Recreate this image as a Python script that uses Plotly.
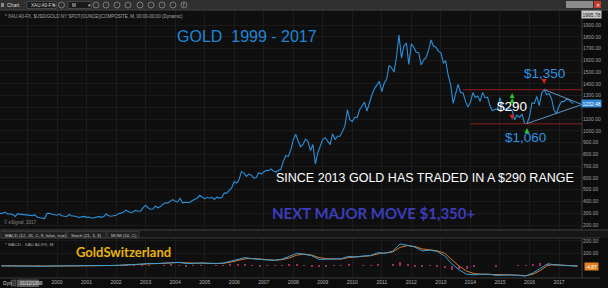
import plotly.graph_objects as go
import pandas as pd

W, H = 608, 288
def px(x):
    return x / W
def py(y):
    return 1 - y / H

# ---------------- data: monthly gold closes (USD/oz) ----------------
gold_1998 = [303, 297, 301, 310, 293, 296, 289, 273, 294, 292, 294, 288]
gold_1999 = [287, 287, 280, 286, 268, 261, 255, 255, 299, 299, 292, 290]
gold_2000 = [283, 293, 279, 274, 272, 289, 277, 276, 273, 264, 269, 273]
gold_2001 = [265, 267, 258, 264, 267, 271, 265, 273, 293, 279, 275, 277]
gold_2002 = [282, 296, 301, 308, 326, 318, 304, 312, 324, 317, 318, 347]
gold_2003 = [368, 347, 334, 336, 361, 346, 354, 375, 388, 386, 398, 416]
gold_2004 = [402, 396, 427, 388, 393, 395, 391, 408, 415, 428, 452, 438]
gold_2005 = [422, 435, 428, 435, 417, 437, 429, 433, 473, 470, 495, 517]
gold_2006 = [569, 556, 584, 654, 643, 613, 633, 623, 599, 604, 646, 632]
gold_2007 = [650, 665, 662, 677, 658, 650, 665, 672, 743, 789, 783, 836]
gold_2008 = [923, 972, 916, 865, 885, 930, 912, 833, 884, 717, 816, 869]
gold_2009 = [928, 942, 916, 883, 975, 926, 954, 955, 995, 1040, 1180, 1096]
gold_2010 = [1081, 1116, 1113, 1179, 1212, 1244, 1169, 1246, 1307, 1357, 1386, 1421]
gold_2011 = [1333, 1409, 1439, 1556, 1536, 1500, 1628, 1815, 1620, 1722, 1746, 1564]
gold_2012 = [1740, 1711, 1669, 1664, 1560, 1604, 1622, 1687, 1773, 1719, 1712, 1676]
gold_2013 = [1663, 1578, 1596, 1472, 1393, 1234, 1313, 1396, 1327, 1323, 1253, 1202]
gold_2014 = [1244, 1326, 1284, 1296, 1250, 1327, 1282, 1287, 1210, 1171, 1183, 1184]
gold_2015 = [1283, 1213, 1183, 1183, 1190, 1172, 1095, 1134, 1115, 1142, 1065, 1061]
gold_2016 = [1118, 1238, 1234, 1293, 1215, 1322, 1351, 1309, 1316, 1273, 1173, 1151]
gold_2017 = [1211, 1249, 1249, 1268, 1268, 1242, 1232.48]

prices = (gold_1998 + gold_1999 + gold_2000 + gold_2001 + gold_2002 + gold_2003 +
          gold_2004 + gold_2005 + gold_2006 + gold_2007 + gold_2008 + gold_2009 +
          gold_2010 + gold_2011 + gold_2012 + gold_2013 + gold_2014 + gold_2015 +
          gold_2016 + gold_2017)
dates = pd.date_range("1998-01-01", periods=len(prices), freq="MS")

# ---------------- MACD panel (quarterly readings) ----------------
macd_line = [-3, -4, -5, -5, -5, -8, -6, -3, -3, -2, -3, -4, -5, -3, 0, 1,
             3, 8, 9, 12, 18, 16, 20, 28, 26, 18, 16, 22, 18, 16, 20, 35,
             50, 65, 55, 48, 45, 42, 52, 75, 100, 92, 80, 50, 52, 50, 55, 75,
             70, 78, 82, 105, 100, 118, 175, 165, 150, 120, 125, 115,
             80, 15, -35, -70, -75, -70, -70, -80, -75, -76, -80, -85,
             -60, -20, 15, 5, 0, -3, -5]
macd_signal = [-2, -3, -4, -5, -5, -6, -6, -5, -4, -3, -3, -3, -4, -4, -2, 0,
               1, 5, 8, 10, 14, 16, 18, 23, 25, 22, 18, 19, 18, 17, 18, 27,
               40, 55, 58, 52, 47, 44, 48, 62, 85, 93, 85, 65, 56, 52, 53, 65,
               70, 75, 80, 95, 100, 110, 148, 162, 155, 135, 128, 120,
               100, 50, -5, -45, -65, -70, -70, -75, -75, -76, -78, -82,
               -70, -40, 2, 8, 3, 0, -3]
macd_hist = [-1, -1, -1, 0, 0, -2, 0, 2, 1, 1, 0, -1, -1, 1, 2, 1,
             2, 3, 1, 2, 4, 0, 2, 5, 1, -4, -2, 3, 0, -1, 2, 8,
             10, 10, -3, -4, -2, -2, 4, 13, 15, -1, -5, -15, -4, -2, 2, 10,
             0, 3, 2, 10, 0, 8, 25, 5, -5, -15, -3, -5,
             -20, -35, -30, -25, -10, 0, 0, -5, 0, 0, -2, -3,
             10, 20, 15, -3, -3, -3, -2]
q_dates = [f"{y}-{m:02d}-15" for y in range(1998, 2018) for m in (2, 5, 8, 11)][:len(macd_line)]

year_ticks = [f"{y}-01-01" for y in range(2000, 2018)]
year_labels = [str(y) for y in range(2000, 2018)]
grid_years = [f"{y}-01-01" for y in range(1999, 2018)]
price_ticks = list(range(200, 2000, 100))
# the 1200 label sits under the last-price box in the reference
price_labels = ["" if v == 1200 else f"{v}.00" for v in price_ticks]

# annotations on the price panel
range_top, range_bottom = 1350, 1060
top_line_start, bottom_line_start = "2013-10-01", "2014-01-01"
tri_peak = ("2016-07-01", 1351)
tri_low = ("2015-12-01", 1062)
tri_apex = ("2017-10-12", 1224)
label_texts = ["$1,350", "$290", "$1,060"]
label_x = ["2016-07-01", "2015-06-01", "2015-11-15"]
label_y = [1492, 1211, 940]
label_colors = ["#2f93e2", "#ffffff", "#2f93e2"]
green_x = ["2015-06-01", "2015-06-01", "2015-12-01"]
green_y = [1322, 1280, 1024]
red_x = ["2015-06-01", "2016-07-01"]
red_y = [1095, 1398]

X_RANGE = ["1998-01-26", "2017-10-12"]
FONT = "Liberation Sans, Arial, sans-serif"

fig = go.Figure()

# price line
fig.add_trace(go.Scatter(x=dates, y=prices, mode="lines",
                         line=dict(color="#2b8fda", width=1.1),
                         xaxis="x", yaxis="y", hoverinfo="skip"))
# markers
fig.add_trace(go.Scatter(x=green_x, y=green_y, mode="markers",
                         marker=dict(symbol="arrow-up", size=5, color="#27c42a"),
                         xaxis="x", yaxis="y", hoverinfo="skip"))
fig.add_trace(go.Scatter(x=red_x, y=red_y, mode="markers",
                         marker=dict(symbol="arrow-down", size=5, color="#e0201e"),
                         xaxis="x", yaxis="y", hoverinfo="skip"))

# MACD panel
fig.add_trace(go.Bar(x=q_dates, y=macd_hist, marker=dict(color="#9e2a66", line=dict(width=0)),
                     width=12 * 24 * 3600 * 1000, xaxis="x2", yaxis="y2", hoverinfo="skip"))
fig.add_trace(go.Scatter(x=q_dates, y=macd_signal, mode="lines",
                         line=dict(color="#d9782a", width=1), xaxis="x2", yaxis="y2",
                         hoverinfo="skip"))
fig.add_trace(go.Scatter(x=q_dates, y=macd_line, mode="lines",
                         line=dict(color="#3aa0d8", width=1), xaxis="x2", yaxis="y2",
                         hoverinfo="skip"))

shapes = []
# toolbar background
shapes.append(dict(type="rect", xref="paper", yref="paper", x0=0, x1=1, y0=py(10), y1=1,
                   fillcolor="#2f2f2f", line=dict(width=0), layer="below"))
shapes.append(dict(type="line", xref="paper", yref="paper", x0=0, x1=1, y0=py(10), y1=py(10),
                   line=dict(color="#474747", width=1)))
# toolbar widgets
shapes.append(dict(type="rect", xref="paper", yref="paper", x0=px(1), x1=px(4), y0=py(7), y1=py(3),
                   fillcolor="#8a8a8a", line=dict(width=0)))
for (a, b) in [(27, 56), (68, 91)]:
    shapes.append(dict(type="rect", xref="paper", yref="paper", x0=px(a), x1=px(b), y0=py(8.5), y1=py(1.5),
                       fillcolor="#1a1a1a", line=dict(color="#5a5a5a", width=0.6)))
for cx in [61.5, 96, 106, 117, 128, 140, 151, 162, 173, 184]:
    shapes.append(dict(type="circle", xref="paper", yref="paper", x0=px(cx - 3), x1=px(cx + 3),
                       y0=py(8), y1=py(2), line=dict(color="#9a9a9a", width=0.7)))
shapes.append(dict(type="rect", xref="paper", yref="paper", x0=px(566), x1=px(593), y0=py(8), y1=py(1),
                   fillcolor="#8c8c8c", line=dict(width=0)))
shapes.append(dict(type="rect", xref="paper", yref="paper", x0=px(594), x1=px(601), y0=py(8), y1=py(1),
                   fillcolor="#c23a2a", line=dict(width=0)))
# separators / borders
shapes.append(dict(type="line", xref="paper", yref="paper", x0=px(582), x1=px(582), y0=py(278), y1=py(10),
                   line=dict(color="#3c3c3c", width=1)))
shapes.append(dict(type="rect", xref="paper", yref="paper", x0=0, x1=1, y0=py(231), y1=py(229),
                   fillcolor="#2a2a2a", line=dict(width=0)))
shapes.append(dict(type="rect", xref="paper", yref="paper", x0=0, x1=1, y0=py(238), y1=py(231),
                   fillcolor="#161616", line=dict(width=0)))
for (a, b) in [(1, 66), (67, 106), (107, 139)]:
    shapes.append(dict(type="rect", xref="paper", yref="paper", x0=px(a), x1=px(b), y0=py(238), y1=py(231.5),
                       fillcolor="#202020", line=dict(color="#4a4a4a", width=0.6)))
shapes.append(dict(type="line", xref="paper", yref="paper", x0=0, x1=px(600), y0=py(238), y1=py(238),
                   line=dict(color="#3a3a3a", width=1)))
shapes.append(dict(type="line", xref="paper", yref="paper", x0=0, x1=px(600), y0=py(278), y1=py(278),
                   line=dict(color="#3a3a3a", width=1)))
shapes.append(dict(type="rect", xref="paper", yref="paper", x0=px(11), x1=px(16), y0=py(286), y1=py(280),
                   fillcolor="#3a3a3a", line=dict(color="#777", width=0.5)))
shapes.append(dict(type="rect", xref="paper", yref="paper", x0=px(17), x1=px(39), y0=py(287), y1=py(279.5),
                   fillcolor="#5a5a5a", line=dict(width=0)))
# range lines
shapes.append(dict(type="line", xref="x", yref="y", x0=top_line_start, x1=X_RANGE[1],
                   y0=range_top, y1=range_top, line=dict(color="#8e1f1f", width=1)))
shapes.append(dict(type="line", xref="x", yref="y", x0=bottom_line_start, x1=X_RANGE[1],
                   y0=range_bottom, y1=range_bottom, line=dict(color="#8e1f1f", width=1)))
# triangle
shapes.append(dict(type="line", xref="x", yref="y", x0=tri_peak[0], y0=tri_peak[1],
                   x1=tri_apex[0], y1=tri_apex[1], line=dict(color="#5c95c9", width=1)))
shapes.append(dict(type="line", xref="x", yref="y", x0=tri_low[0], y0=tri_low[1],
                   x1=tri_apex[0], y1=tri_apex[1], line=dict(color="#5c95c9", width=1)))

ann = []
def txt(x, y, s, size, color, anchor="left", family=FONT, **kw):
    d = dict(xref="paper", yref="paper", x=px(x), y=py(y), text=s, showarrow=False,
             xanchor=anchor, yanchor="middle", font=dict(size=size, color=color, family=family))
    d.update(kw)
    ann.append(d)

txt(5, 5.2, "Chart", 5, "#dddddd")
txt(29, 5.2, "XAU A0-FX", 4.6, "#dddddd")
txt(51, 5.2, "▾", 4.6, "#bbbbbb")
txt(70, 5.2, "M", 4.6, "#dddddd")
txt(86, 5.2, "▾", 4.6, "#bbbbbb")
txt(184, 5.2, "f", 5, "#bbbbbb", anchor="center")
txt(597.5, 4.5, "✕", 5, "#ffffff", anchor="center")
txt(3, 16, "* XAU A0-FX, $USD/GOLD NY SPOT(OUNCE)|COMPOSITE, M, 00:00-00:00 (Dynamic)", 4.5, "#a8a8a8")
txt(247, 36, "GOLD\u00a0 1999 - 2017", 16, "#1f86d6", anchor="center")
txt(425, 178, "SINCE 2013 GOLD HAS TRADED IN A $290 RANGE", 12.5, "#ffffff", anchor="center")
txt(374, 213, "<b>NEXT MAJOR MOVE $1,350+</b>", 15, "#3b3dbd", anchor="center", family="Lato, sans-serif")
txt(123, 252, "<b>GoldSwitzerland</b>", 13, "#e8b20e", anchor="center", family="Lato, sans-serif")
txt(2, 222, "© eSignal, 2017", 4.5, "#8a8a8a")
txt(3, 235, "MACD (12, 26, C, 9, false, true)", 4.4, "#cccccc")
txt(69, 235, "Stoch (21, 3, 3)", 4.4, "#cccccc")
txt(109, 235, "MOM (10, C)", 4.4, "#cccccc")
txt(3, 244, "* MACD - XAU A0-FX, M", 4.4, "#aaaaaa")
txt(1, 283, "Dyn", 5, "#cccccc")
txt(18, 283, "01/12/1998", 4.5, "#e0e0e0")
# price scale boxes
txt(591.5, 14, "1995.78", 5, "#222222", anchor="center", bgcolor="#c9c9c9", borderpad=0.5)
txt(591.5, 266, "-4.87", 5, "#ffffff", anchor="center", bgcolor="#e0801e", borderpad=0.5)
ann.append(dict(xref="paper", yref="y", x=px(591.5), y=prices[-1], text=f"{prices[-1]:.2f}",
                showarrow=False, xanchor="center", yanchor="middle", bgcolor="#2f85d6", borderpad=0.5,
                font=dict(size=5, color="#ffffff", family=FONT)))
# price panel labels
for t, xx, yy, c in zip(label_texts, label_x, label_y, label_colors):
    ann.append(dict(xref="x", yref="y", x=xx, y=yy, text=t, showarrow=False,
                    xanchor="center", yanchor="middle",
                    font=dict(size=13.5, color=c, family=FONT)))

fig.update_layout(
    width=W, height=H, margin=dict(l=0, r=0, t=0, b=0),
    paper_bgcolor="#0c0c0c", plot_bgcolor="#0f0f0f",
    showlegend=False, bargap=0,
    shapes=shapes, annotations=ann,
    xaxis=dict(domain=[0, px(582)], anchor="y", type="date", range=X_RANGE,
               tickvals=grid_years, showticklabels=False, showgrid=True,
               gridcolor="#1c1c1c", gridwidth=1, zeroline=False, showline=False,
               automargin=False, fixedrange=True),
    yaxis=dict(domain=[py(229), py(10)], anchor="x", range=[166, 2027.5], side="right",
               tickvals=price_ticks, ticktext=price_labels, showgrid=True,
               gridcolor="#1a1a1a", zeroline=False, showline=False, ticks="",
               tickfont=dict(size=5, color="#a0a0a0", family=FONT), automargin=False),
    xaxis2=dict(domain=[0, px(582)], anchor="y2", type="date", range=X_RANGE, matches="x",
                tickvals=year_ticks, ticktext=year_labels, showgrid=True,
                gridcolor="#1c1c1c", zeroline=False, showline=False, ticks="",
                tickfont=dict(size=5, color="#b0b0b0", family=FONT), automargin=False),
    yaxis2=dict(domain=[py(278), py(238)], anchor="x2", range=[-101, 224], side="right",
                tickvals=[100, 200], ticktext=["100.00", "200.00"], showgrid=True,
                gridcolor="#1a1a1a", zeroline=False, showline=False, ticks="",
                tickfont=dict(size=5, color="#a0a0a0", family=FONT), automargin=False),
)

fig.write_html("out.html", config={"displayModeBar": False})
